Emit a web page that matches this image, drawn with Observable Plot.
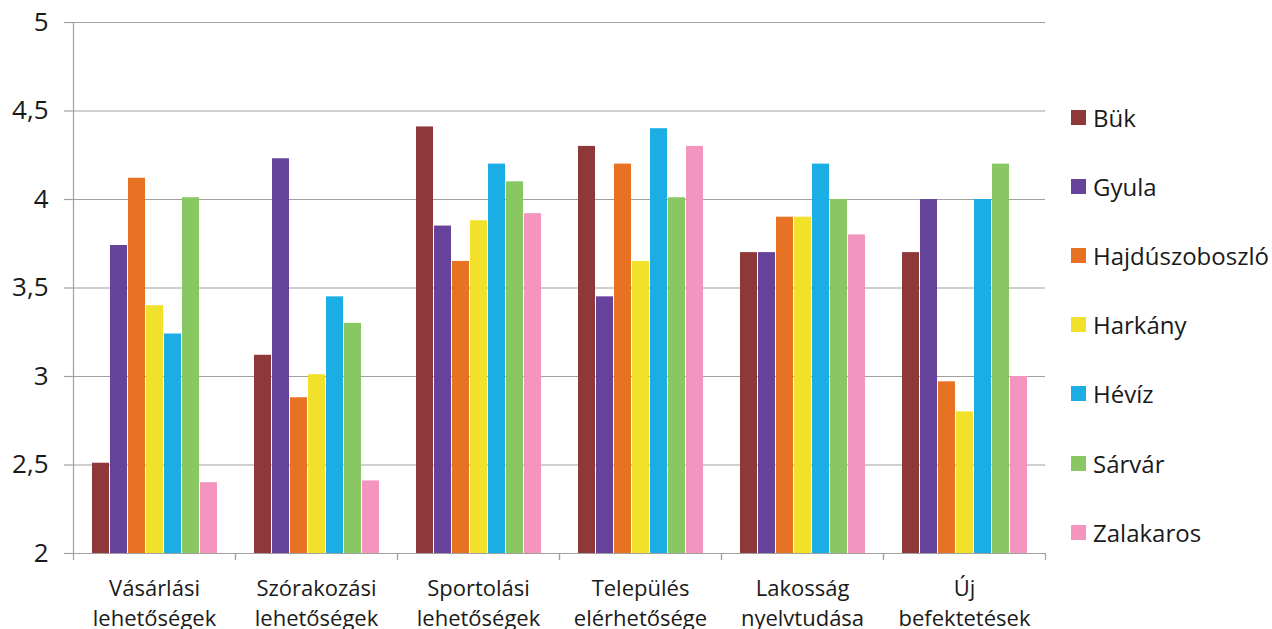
<!DOCTYPE html>
<html>
<head>
<meta charset="utf-8">
<script src="https://cdn.jsdelivr.net/npm/d3@7"></script>
<script src="https://cdn.jsdelivr.net/npm/@observablehq/plot@0.6"></script>
<style>
  html, body { margin: 0; padding: 0; background: white; }
  #wrap { position: relative; width: 1272px; height: 629px; overflow: hidden; font-family: "Open Sans", sans-serif; }
  #legend { position: absolute; left: 1071px; top: 0; }
  .item { position: absolute; left: 0; display: flex; align-items: center; white-space: nowrap; font-size: 24px; color: #1a1a1a; }
  .sw { width: 15px; height: 15px; margin-right: 7px; flex: none; }
</style>
</head>
<body>
<div id="wrap"><div id="chart"></div><div id="legend"></div></div>
<script>
const categories = [
  "Vásárlási\nlehetőségek",
  "Szórakozási\nlehetőségek",
  "Sportolási\nlehetőségek",
  "Település\nelérhetősége",
  "Lakosság\nnyelvtudása",
  "Új\nbefektetések"
];
const towns = ["Bük", "Gyula", "Hajdúszoboszló", "Harkány", "Hévíz", "Sárvár", "Zalakaros"];
const colors = ["#8E383A", "#65439B", "#E87224", "#F2E12A", "#1BAEE4", "#88C762", "#F395BE"];

const buk     = [2.51, 3.12, 4.41, 4.30, 3.70, 3.70];
const gyula   = [3.74, 4.23, 3.85, 3.45, 3.70, 4.00];
const hajdu   = [4.12, 2.88, 3.65, 4.20, 3.90, 2.97];
const harkany = [3.40, 3.01, 3.88, 3.65, 3.90, 2.80];
const heviz   = [3.24, 3.45, 4.20, 4.40, 4.20, 4.00];
const sarvar  = [4.01, 3.30, 4.10, 4.01, 4.00, 4.20];
const zala    = [2.40, 2.41, 3.92, 4.30, 3.80, 3.00];

const yTicks = [2, 2.5, 3, 3.5, 4, 4.5, 5];

const series = [buk, gyula, hajdu, harkany, heviz, sarvar, zala];
const data = [];
categories.forEach((c, ci) => {
  towns.forEach((t, ti) => data.push({category: c, town: t, value: series[ti][ci]}));
});

const W = 1272, H = 629;
const mL = 73, mR = 227, mT = 22, mB = 76;
const step = (W - mL - mR) / categories.length;
const fmt = d => String(d).replace(".", ",");

const chart = Plot.plot({
  width: W,
  height: H,
  marginLeft: mL,
  marginRight: mR,
  marginTop: mT,
  marginBottom: mB,
  style: {fontFamily: "Open Sans, sans-serif", fontSize: "22px", color: "#1a1a1a", background: "white"},
  fx: {domain: categories, padding: 0, label: null},
  x: {domain: towns, paddingInner: 0.08, paddingOuter: 0.96, axis: null},
  y: {domain: [2, 5], axis: null},
  color: {domain: towns, range: colors},
  marks: [
    Plot.gridY(yTicks, {stroke: "#a0a0a0", strokeOpacity: 1, strokeWidth: 1.2}),
    Plot.frame({anchor: "left", facetAnchor: "left", stroke: "#a0a0a0", strokeWidth: 1.2}),
    Plot.axisY(yTicks, {tickSize: 9, tickPadding: 16, tickFormat: fmt, fontSize: 26, stroke: "#a0a0a0", strokeWidth: 1.2, label: null}),
    Plot.barY(data, {fx: "category", x: "town", y1: 2, y2: "value", fill: "town"}),
    Plot.axisFx({anchor: "bottom", tickSize: 7, tickFormat: () => "", dx: -step / 2, stroke: "#a0a0a0", strokeWidth: 1.2, label: null}),
    Plot.axisFx({anchor: "bottom", tickSize: 7, tickFormat: () => "", dx: step / 2, stroke: "#a0a0a0", strokeWidth: 1.2, label: null}),
    Plot.axisFx({anchor: "bottom", tickSize: 0, tickPadding: 21, fontSize: 22, lineHeight: 1.36, label: null})
  ]
});
document.getElementById("chart").appendChild(chart);

const rowCenters0 = 117, rowStep = 69.2;
const legend = d3.select("#legend");
towns.forEach((t, i) => {
  const row = legend.append("div").attr("class", "item")
    .style("top", (rowCenters0 + i * rowStep - 17) + "px")
    .style("height", "34px");
  row.append("div").attr("class", "sw").style("background", colors[i]);
  row.append("span").text(t);
});
</script>
</body>
</html>
